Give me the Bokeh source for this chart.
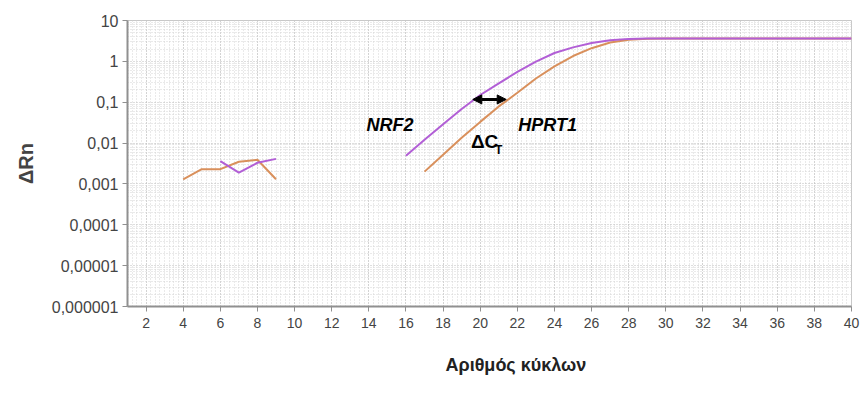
import numpy as np
from bokeh.plotting import figure
from bokeh.models import FixedTicker, Arrow, NormalHead, Title, Label
from bokeh.embed import file_html
from bokeh.resources import INLINE

# ---- data ----
nan = float("nan")
hprt1_cycles = [4, 5, 6, 7, 8, 9, nan,
                17, 18, 19, 20, 21, 22, 23, 24, 25, 26, 27, 28, 29, 30,
                31, 32, 33, 34, 35, 36, 37, 38, 39, 40]
hprt1_drn = [0.0013, 0.0023, 0.0023, 0.0035, 0.0039, 0.0013, nan,
             0.0020, 0.0052, 0.0135, 0.033, 0.079, 0.17, 0.38, 0.75, 1.35, 2.1, 2.9, 3.4, 3.6, 3.65,
             3.65, 3.65, 3.65, 3.65, 3.65, 3.65, 3.65, 3.65, 3.65, 3.65]

nrf2_cycles = [6, 7, 8, 9, nan,
               16, 17, 18, 19, 20, 21, 22, 23, 24, 25, 26, 27, 28, 29, 30,
               31, 32, 33, 34, 35, 36, 37, 38, 39, 40]
nrf2_drn = [0.0036, 0.0019, 0.0033, 0.0041, nan,
            0.0049, 0.012, 0.029, 0.068, 0.15, 0.29, 0.55, 0.98, 1.6, 2.2, 2.8, 3.3, 3.55, 3.65, 3.65,
            3.65, 3.65, 3.65, 3.65, 3.65, 3.65, 3.65, 3.65, 3.65, 3.65]

threshold = 0.117
ct_nrf2 = 19.6
ct_hprt1 = 21.4

y_ticks = [1e-6, 1e-5, 1e-4, 1e-3, 1e-2, 1e-1, 1, 10]
y_tick_labels = ["0,000001", "0,00001", "0,0001", "0,001", "0,01", "0,1", "1", "10"]
x_ticks = list(range(2, 41, 2))

# ---- figure ----
p = figure(width=863, height=400, y_axis_type="log",
           x_range=(1, 40), y_range=(1e-6, 10),
           output_backend="svg", toolbar_location=None,
           min_border_left=127, min_border_right=12,
           min_border_top=20, min_border_bottom=94,
           background_fill_color="white", border_fill_color="white")
p.outline_line_color = "#c8c8c8"

y_minor = [m * 10.0 ** e for e in range(-6, 1) for m in range(2, 10)]
p.yaxis.ticker = FixedTicker(ticks=y_ticks, minor_ticks=y_minor)
p.yaxis.major_label_overrides = {t: l for t, l in zip(y_ticks, y_tick_labels)}
x_minor = list(np.arange(1, 40.01, 0.25))
p.xaxis.ticker = FixedTicker(ticks=x_ticks, minor_ticks=x_minor)

for ax in (p.xaxis[0], p.yaxis[0]):
    ax.axis_line_color = "#909090"
    ax.axis_line_width = 2
    ax.major_tick_line_color = "#909090"
    ax.major_tick_in = 0
    ax.major_tick_out = 5
    ax.minor_tick_line_color = None
    ax.major_label_text_color = "#444444"

p.yaxis.major_label_text_font = "Liberation Sans"
p.yaxis.major_label_text_font_size = "16px"
p.yaxis.major_label_standoff = 4
p.yaxis.axis_label = "ΔRn"
p.yaxis.axis_label_text_font = "Liberation Sans"
p.yaxis.axis_label_text_font_size = "20px"
p.yaxis.axis_label_text_font_style = "bold"
p.yaxis.axis_label_text_color = "#444444"
p.yaxis.axis_label_standoff = 12

p.xaxis.major_label_text_font = "Liberation Sans"
p.xaxis.major_label_text_font_size = "14px"
p.xaxis.major_label_standoff = 6

for g in (p.xgrid[0], p.ygrid[0]):
    g.grid_line_color = "#bcbcbc"
    g.grid_line_dash = "1 2"
    g.minor_grid_line_color = "#d4d4d4"
    g.minor_grid_line_dash = "1 2"

# ---- curves ----
p.line(hprt1_cycles, hprt1_drn, line_color="#d9905c", line_width=2)
p.line(nrf2_cycles, nrf2_drn, line_color="#b25fd6", line_width=2)

# ---- annotations ----
p.add_layout(Arrow(x_start=ct_nrf2, y_start=threshold, x_end=ct_hprt1, y_end=threshold,
                   line_width=3, line_color="black",
                   start=NormalHead(size=9, fill_color="black", line_color="black"),
                   end=NormalHead(size=9, fill_color="black", line_color="black")))

p.add_layout(Label(x=16.4, y=0.028, text="NRF2", text_align="right", text_baseline="middle",
                   text_font="Liberation Sans", text_font_size="18px",
                   text_font_style="bold italic", text_color="black"))
p.add_layout(Label(x=22.05, y=0.028, text="HPRT1", text_align="left", text_baseline="middle",
                   text_font="Liberation Sans", text_font_size="18px",
                   text_font_style="bold italic", text_color="black"))
p.add_layout(Label(x=19.5, y=0.0107, text="ΔC", text_align="left", text_baseline="middle",
                   text_font="Liberation Sans", text_font_size="19px",
                   text_font_style="bold", text_color="black"))
p.add_layout(Label(x=20.8, y=0.0068, text="T", text_align="left", text_baseline="middle",
                   text_font="Liberation Sans", text_font_size="12px",
                   text_font_style="bold", text_color="black"))

p.add_layout(Title(text="Αριθμός κύκλων", align="left", offset=318,
                   text_font="Liberation Sans", text_font_size="18px",
                   text_font_style="bold", text_color="#222222", standoff=44), "below")

open("out.html", "w").write(file_html(p, INLINE))
